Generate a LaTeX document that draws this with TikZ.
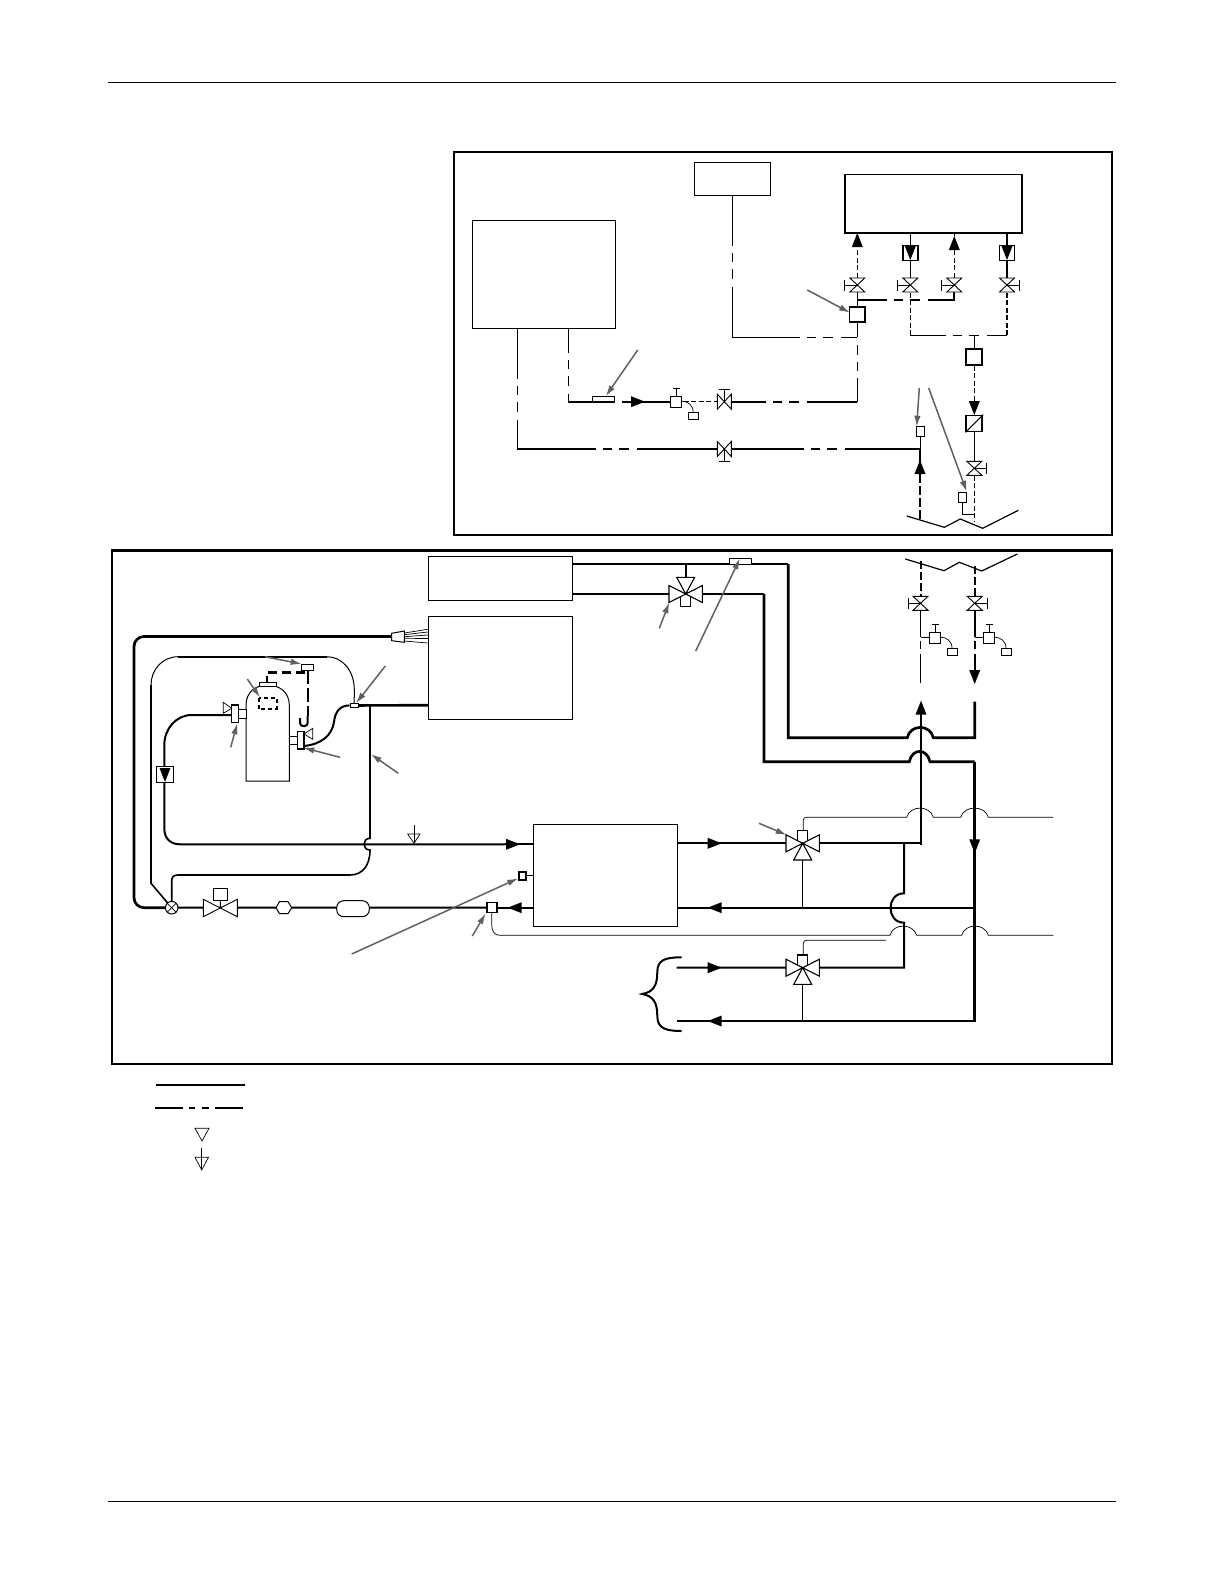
\documentclass[tikz,border=0pt]{standalone}
\usetikzlibrary{arrows.meta}
\begin{document}
\begin{tikzpicture}[
    x=1pt,y=-1pt,
    BX/.style={draw,fill=white,rectangle,inner sep=0pt,line width=1pt},
    FR/.style={draw,line width=2.2pt},
    HP/.style={draw,line width=2.7pt},
    MP/.style={draw,line width=2pt},
    TP/.style={draw,line width=1pt},
    VT/.style={draw,line width=0.7pt},
    DD/.style={dash pattern=on #1 off 7pt on 9pt off 7pt on 10pt off 8pt on 900pt},
    SD/.style={dash pattern=on 5pt off 2.5pt},
    LDR/.style={draw=gray!75!black,line width=1.5pt,-{Latex[length=11pt,width=6.5pt]}},
    FT/.pic={\fill (0,0) -- (-14,-5.5) -- (-14,5.5) -- cycle;},
    VLV/.pic={\draw [fill=white,line width=0.9pt] (-7,-7.5) -- (7,7.5) -- (7,-7.5) -- (-7,7.5) -- cycle;
      \draw [line width=0.9pt] (0,0) -- (0,-12.5) (-5.5,-12.5) -- (5.5,-12.5);},
    TWV/.pic={\draw [fill=white,line width=1.1pt] (-5,-12.7) rectangle (5,0);
      \draw [fill=white,line width=1.1pt] (-16.7,-8.5) -- (0,0) -- (-16.7,8.5) -- cycle (16.7,-8.5) -- (0,0) -- (16.7,8.5) -- cycle (-9,16.7) -- (0,0) -- (9,16.7) -- cycle;},
    REG/.pic={\draw [fill=white,line width=0.9pt] (-5.6,-5.3) rectangle (5.6,5.3);
      \draw [line width=0.9pt] (0,-5.3) -- (0,-13) (-3.5,-13) -- (3.5,-13);
      \draw [line width=0.7pt] (5.6,-0.5) .. controls (11,-0.5) and (17,3) .. (17,10.5);
      \draw [fill=white,line width=0.8pt] (12,10.5) rectangle (22.5,17.5);}
  ]
  \useasboundingbox (0,0) rectangle (1224,1584);
  % page rules and frames
  \draw [line width=0.9pt] (108,82.9) -- (1116,82.9) (108,1501.6) -- (1116,1501.6);
  \draw [FR] (453.7,151.7) rectangle (1111.8,534.6);
  \draw [FR] (112,550.4) rectangle (1111.8,1064);
  % boxes
  \node [BX,minimum width=143.4pt,minimum height=108.4pt] (boxA) at (543.7,274.2) {};
  \node [BX,minimum width=75.8pt,minimum height=32.3pt] (boxB) at (732.8,178.9) {};
  \node [BX,line width=1.6pt,minimum width=177pt,minimum height=58.4pt] (boxC) at (933.6,203.5) {};
  \node [BX,minimum width=144.7pt,minimum height=43.2pt] (boxF) at (500.6,578.4) {};
  \node [BX,minimum width=144.7pt,minimum height=103pt] (boxD) at (500.6,667.5) {};
  \node [BX,minimum width=143.8pt,minimum height=102.7pt] (boxE) at (605.4,875.6) {};
  % upper part
  \coordinate (ca) at (517.3,449);
  \coordinate (vLo) at (724.3,449);
  \coordinate (tee) at (920,449);
  \coordinate (cb) at (568.3,401.7);
  \coordinate (tipB) at (630.7,401.7);
  \coordinate (rgA) at (676.2,401.7);
  \coordinate (vHi) at (724.3,401.7);
  \coordinate (cc) at (857.3,401.7);
  \coordinate (cd) at (732.3,337.3);
  \coordinate (ce) at (857.3,337.3);
  \draw [TP,DD=50pt] (boxA.south -| ca) -- (ca);
  \draw [MP,DD=79pt] (ca) -- (vLo);
  \draw [MP,DD=80pt] (vLo) -- (tee);
  \draw [TP,DD=24pt] (boxA.south -| cb) -- (cb);
  \draw [MP,DD=47pt] (cb) -- (tipB);
  \draw [MP] (tipB) -- (rgA);
  \draw [TP,SD] (rgA) -- (vHi);
  \draw [MP,DD=42pt] (vHi) -- (cc);
  \draw [TP,DD=24pt] (cc) -- (ce);
  \draw [TP,DD=50pt] (boxB.south -| cd) -- (cd);
  \draw [TP,DD=68pt] (cd) -- (ce);
  \node [BX,line width=1.7pt,minimum size=15.6pt] (sqV) at (857.3,314.5) {};
  \draw [TP] (ce) -- (sqV.south);
  \node [BX,line width=1.9pt,minimum size=15pt] (chkA) at (910.3,253) {};
  \node [BX,line width=1.2pt,minimum size=15pt] (chkB) at (1007,253) {};
  \coordinate (vA) at (857.3,285);
  \coordinate (vB) at (910.3,285);
  \coordinate (vC) at (954.3,285);
  \coordinate (vD) at (1007,285);
  \coordinate (hd) at (954.3,300);
  \coordinate (bsL) at (910.3,335);
  \coordinate (bsR) at (1007,335);
  \coordinate (bsT) at (974.3,335);
  \coordinate (tpA) at (857.3,233);
  \coordinate (tpC) at (954.3,236);
  \draw [TP] (sqV.north) -- (vA);
  \draw [TP,SD] (vA) -- (857.3,250);
  \draw [TP] (boxC.south -| tpA) -- (tpA);
  \draw [TP] (boxC.south -| chkA) -- (chkA);
  \draw [TP] (chkA) -- (vB);
  \draw [TP,SD] (vC) -- (954.3,250);
  \draw [TP] (boxC.south -| tpC) -- (tpC);
  \draw [MP] (boxC.south -| chkB) -- (chkB);
  \draw [MP] (chkB) -- (vD);
  \draw [MP,DD=30pt] (857.3,300) -- (hd) -- (vC);
  \draw [TP,SD] (vB) -- (bsL);
  \draw [MP,SD] (vD) -- (bsR);
  \draw [TP,DD=36pt] (bsL) -- (bsR);
  \pic [rotate=90] at (tpA) {FT};
  \pic [rotate=-90] at (910.3,260) {FT};
  \pic [rotate=90] at (tpC) {FT};
  \pic [rotate=-90] at (1007,260) {FT};
  \pic [rotate=90] at (vA) {VLV};
  \pic [rotate=90] at (vB) {VLV};
  \pic [rotate=90] at (vC) {VLV};
  \pic [rotate=-90] at (vD) {VLV};
  \node [BX,line width=1.7pt,minimum size=16pt] (sqF) at (974.3,357) {};
  \node [BX,line width=1.7pt,minimum size=16pt] (sqD) at (974.3,423.5) {};
  \draw [line width=1.1pt] (sqD.south west) -- (sqD.north east);
  \coordinate (vE) at (974.3,468.3);
  \coordinate (wvE) at (974.3,522);
  \draw [TP] (bsT) -- (sqF.north);
  \draw [TP,SD] (sqF.south) -- (974.3,402);
  \draw [TP] (sqD.south) -- (vE);
  \draw [TP,SD] (vE) -- (wvE);
  \pic [rotate=-90] at (974.3,415) {FT};
  \pic [rotate=-90] at (vE) {VLV};
  \pic [rotate=180] at (vLo) {VLV};
  \pic at (vHi) {VLV};
  \pic at (rgA) {REG};
  \pic at (645,401.7) {FT};
  \node [BX,minimum width=22.4pt,minimum height=5.4pt,fill=none] (snB) at (603.5,399) {};
  \node [BX,minimum width=8pt,minimum height=10pt] (snA) at (920,431) {};
  \node [BX,minimum width=8pt,minimum height=10pt] (snC) at (962.6,497) {};
  \draw [TP] (snA.south) -- (tee);
  \draw [MP] (tee) -- (920,462);
  \draw [MP,dash pattern=on 9pt off 3pt] (920,474) -- (920,519);
  \pic [rotate=90] at (920,460) {FT};
  \draw [TP] (snC.south) |- (974.3,514.3);
  \draw [TP,line width=1.2pt] (906.7,516) -- (944.3,527.3) -- (960.3,519) -- (982.7,528.3) -- (1018.3,510.3);
  % lower part, risers
  \draw [TP,line width=1.2pt] (905.3,559) -- (944,570.7) -- (959.3,562.3) -- (981.7,571) -- (1017.3,554);
  \coordinate (vF) at (920.5,603.3);
  \coordinate (vG) at (974.7,603.3);
  \coordinate (rgF) at (935,637.7);
  \coordinate (rgG) at (989,637.7);
  \draw [MP,dash pattern=on 8pt off 3pt] (920.5,561) -- (vF);
  \draw [MP,dash pattern=on 8pt off 3pt] (974.7,566) -- (vG);
  \draw [TP,line width=1.4pt,dash pattern=on 34pt off 4pt on 8pt off 5pt on 30pt] (vF) -- (920.5,683.3);
  \draw [MP,line width=1.7pt,dash pattern=on 34pt off 4pt on 8pt off 5pt on 30pt] (vG) -- (974.7,672);
  \draw [TP] (920.5,637.7) -- (rgF);
  \draw [TP] (974.7,637.7) -- (rgG);
  \pic [rotate=90] at (vF) {VLV};
  \pic [rotate=-90] at (vG) {VLV};
  \pic at (rgF) {REG};
  \pic at (rgG) {REG};
  \pic [rotate=-90] at (974.7,684) {FT};
  % upper mains
  \coordinate (vT) at (685.7,594);
  \coordinate (upR) at (974.7,701.7);
  \draw [MP] (boxF.east |- 0,564) -- (788.3,564);
  \draw [HP] (788.3,564) -- (788.3,737.7) -- (907.3,737.7) .. controls (910,724) and (930.5,724) .. (933.3,737.7) -- (974.7,737.7) -- (upR);
  \draw [MP] (boxF.east |- vT) -- (vT) -- (764,594);
  \draw [HP] (764,594) -- (764,761.7) -- (909.3,761.7) .. controls (912,748) and (927,748) .. (930,761.7) -- (974.7,761.7);
  \draw [MP] (vT) -- (685.7,564);
  \pic [rotate=180] at (vT) {TWV};
  \node [BX,minimum width=22pt,minimum height=5.7pt] (snG) at (740.7,561.2) {};
  % compressor
  \draw [TP,fill=white] (246,781) -- (246,705) .. controls (246,692) and (256,685) .. (267.6,685) .. controls (279,685) and (289.3,692) .. (289.3,705) -- (289.3,781) -- cycle;
  \draw [TP,fill=white] (259,682.3) rectangle (276,686);
  \draw [MP,line width=2.2pt,dash pattern=on 4pt off 3pt] (258.7,697.7) rectangle (276.7,709);
  \draw [TP,fill=white] (238.3,709.3) rectangle (246,718.3);
  \draw [TP,line width=1.4pt,fill=white] (231.7,705) rectangle (238.3,722.7);
  \draw [VT,fill=white] (223.3,702.3) -- (231.7,708.3) -- (223.3,713.3) -- cycle;
  \draw [TP,fill=white] (289.3,736) rectangle (297.7,744.3);
  \draw [TP,line width=1.4pt,fill=white] (297.7,731.7) rectangle (304,749);
  \draw [VT,fill=white] (312.7,728.3) -- (304,734) -- (312.7,739.3) -- cycle;
  \draw [TP,fill=white] (301.7,664) rectangle (313.3,670);
  \draw [MP,line width=2.4pt,dash pattern=on 9pt off 5pt] (305,672.3) -- (266.7,672.3) -- (266.7,681.7);
  \draw [MP,line width=2.4pt,dash pattern=on 14pt off 4pt] (307.7,670) -- (307.7,716);
  \draw [MP,rounded corners=3pt] (307.7,716) -- (307.7,726) -- (300,726) -- (300,718);
  % refrigerant loop
  \coordinate (xv) at (171.7,907.7);
  \coordinate (sol) at (220.3,907.7);
  \coordinate (hot) at (370,705.3);
  \node [BX,minimum width=8.4pt,minimum height=3.6pt] (snD) at (354.2,705.4) {};
  \draw [HP] (boxD.west |- hot) -- (snD.east);
  \draw [MP] (304.3,746) .. controls (322,744) and (332,735) .. (334,722) .. controls (335,712) and (340,705.3) .. (snD.west);
  \draw [MP,line width=1.6pt] (hot) -- (370,838.3) .. controls (362,838.3) and (362,850) .. (370,850) .. controls (370,866) and (362,875) .. (350,875) -- (178.3,875) .. controls (173,875) and (171.7,877) .. (171.7,882) -- (xv);
  \draw [MP] (231.7,715) -- (191.7,715) .. controls (176,715) and (164.3,729) .. (164.3,745) -- (164.3,828.3) .. controls (164.3,838) and (170,844.3) .. (180,844.3) -- (505,844.3);
  \draw [MP] (505,844.3) -- (boxE.west |- 0,844.3);
  \node [BX,line width=1.4pt,minimum width=16.5pt,minimum height=16pt] (chkL) at (165,774.7) {};
  \pic [rotate=-90] at (165,782) {FT};
  \draw [TP] (snD.north) -- (354.3,690) .. controls (354.3,670) and (342,656.7) .. (326.7,656.7);
  \draw [MP] (326.7,656.7) -- (178.3,656.7);
  \draw [TP] (178.3,656.7) .. controls (162,656.7) and (151,670) .. (151,685);
  \draw [MP,line width=1.6pt] (151,685) -- (151,883.3) -- (xv);
  \draw [HP,rounded corners=10pt] (391.7,636.5) -- (134,636.5) -- (134,907.7) -- (xv);
  \draw [TP,fill=white] (391.7,633.3) -- (404.3,631) -- (404.3,642.3) -- (391.7,640.7) -- cycle;
  \foreach \ya/\yb in {633/629.3,634.7/632,636.7/635,638.3/638.5,641/643}
    \draw [VT] (404.3,\ya) -- (boxD.west |- 0,\yb);
  % liquid line
  \node [BX,line width=1.7pt,minimum size=10pt] (snE) at (491.7,907.5) {};
  \node [BX,line width=1.7pt,minimum width=7pt,minimum height=8pt] (snH) at (522.5,875.8) {};
  \draw [TP] (snH.east) -- (boxE.west |- snH);
  \draw [MP] (xv) -- (sol) -- (snE.west);
  \draw [MP] (snE.east) -- (boxE.west |- snE);
  \pic [rotate=180] at (507.7,907.7) {FT};
  \draw [TP,fill=white,line width=0.9pt] (203.3,899.3) -- (237.3,916.7) -- (237.3,899.3) -- (203.3,916.7) -- cycle;
  \node [BX,line width=0.9pt,minimum width=14.4pt,minimum height=11.7pt] (solB) at (220.5,894.2) {};
  \draw [TP] (solB.south) -- (sol);
  \draw [TP,fill=white] (xv) circle (6.3);
  \draw [VT] (167.2,903.2) -- (176.2,912.2) (176.2,903.2) -- (167.2,912.2);
  \draw [TP,fill=white] (276,907.7) -- (279.5,901.7) -- (288,901.7) -- (291.7,907.7) -- (288,913.7) -- (279.5,913.7) -- cycle;
  \node [BX,rounded corners=7pt,minimum width=32.6pt,minimum height=16pt] (rcvA) at (353,908.7) {};
  % ground and water side
  \draw [VT] (414,825) -- (414,843.3);
  \draw [VT] (407.7,834) -- (420,834) -- (414,843.3) -- cycle;
  \pic at (520,844.3) {FT};
  \coordinate (vV) at (802.7,843.3);
  \coordinate (vW) at (802.7,967.7);
  \coordinate (rtA) at (974.7,907.7);
  \coordinate (rtB) at (974.7,1021);
  \draw [MP] (boxE.east |- vV) -- (vV);
  \draw [MP] (vV) -- (921,843.3);
  \draw [HP] (921,844.6) -- (921,712);
  \pic [rotate=90] at (921,700.7) {FT};
  \draw [HP] (974.7,761.7) -- (rtB) -- (676.7,1021);
  \draw [MP] (rtA) -- (boxE.east |- rtA);
  \draw [TP,line width=1.5pt] (vV) -- (802.7,907.7);
  \draw [TP,line width=1.5pt] (vW) -- (802.7,1021);
  \draw [MP] (904,843.3) -- (904,893.3) .. controls (886,893.3) and (886,922.7) .. (904,922.7) -- (904,967.7) -- (vW) -- (676.7,967.7);
  \pic at (vV) {TWV};
  \pic at (vW) {TWV};
  \pic at (721.7,843.3) {FT};
  \pic at (721.7,967.7) {FT};
  \pic [rotate=180] at (707.7,907.7) {FT};
  \pic [rotate=180] at (707.7,1021) {FT};
  \pic [rotate=-90] at (974.7,853.3) {FT};
  % control lines
  \draw [VT] (803.3,830.7) -- (803.3,820) .. controls (803.3,818) and (805,817.3) .. (806.7,817.3) -- (906.7,817.3) .. controls (910,805) and (930,805) .. (933.3,817.3) -- (960.7,817.3) .. controls (964,805) and (985,805) .. (988.3,817.3) -- (1053.3,817.3);
  \draw [VT] (snE.south) -- (491.7,925) .. controls (491.7,932) and (495,935.3) .. (500,935.3) -- (890,935.3) .. controls (893,923) and (913,923) .. (916.7,935.3) -- (961.7,935.3) .. controls (965,923) and (985,923) .. (988.3,935.3) -- (1053.3,935.3);
  \draw [VT] (803.3,954.3) -- (803.3,943.3) .. controls (803.3,941) and (805,940.3) .. (806.7,940.3) -- (886,940.3);
  % system brace
  \draw [MP] (681.7,957.3) .. controls (665,957.3) and (657.3,960) .. (657.3,972) .. controls (657.3,986) and (653,992) .. (642.3,994) .. controls (653,996) and (657.3,1002) .. (657.3,1016) .. controls (657.3,1028) and (665,1031) .. (681.7,1031);
  % leaders
  \foreach \n/\fx/\fy/\tx/\ty in {a/807.3/290/850/312.7,b/637.7/350/605.7/396.3,c/919.3/388/916.7/426.7,d/928.7/388/966.7/491.7,
      e/695.7/651/740/558.3,f/659.3/628.3/669.3/602.3,g/265/656.7/301.7/664,h/247.3/679/260/697.3,i/230.7/747.3/237.3/723.3,
      j/340/757.3/303.3/747.7,k/385.3/666/356/703.3,l/398.3/773.3/370.7/754,m/759/823.3/786.7/835,n/351.7/954/518.3/878.3,o/472.3/936/485.7/913.3}{
    \coordinate (fr\n) at (\fx,\fy);
    \coordinate (to\n) at (\tx,\ty);
    \draw [LDR] (fr\n) -- (to\n);
  }
  % legend
  \coordinate (lgA) at (156,1085);
  \coordinate (lgB) at (245,1085);
  \coordinate (lgC) at (155,1107.7);
  \coordinate (lgD) at (243.3,1107.7);
  \draw [HP] (lgA) -- (lgB);
  \draw [MP,dash pattern=on 28pt off 6pt on 6pt off 7pt on 7pt off 6pt on 28pt] (lgC) -- (lgD);
  \draw [VT] (195,1128.3) -- (209,1128.3) -- (202,1141) -- cycle;
  \draw [TP] (201.7,1148.3) -- (201.7,1170);
  \draw [VT] (195,1157.3) -- (208.5,1157.3) -- (201.7,1170) -- cycle;
\end{tikzpicture}
\end{document}
